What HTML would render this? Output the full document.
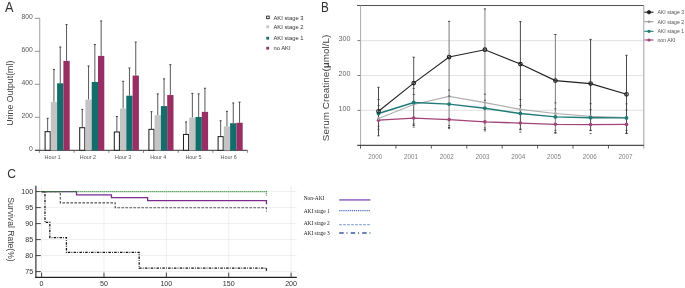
<!DOCTYPE html><html><head><meta charset="utf-8"><style>html,body{margin:0;padding:0;background:#fff;width:685px;height:288px;overflow:hidden}svg{display:block}text{font-family:"Liberation Sans", sans-serif}svg{transform:translateZ(0)}</style></head><body>
<svg width="685" height="288" viewBox="0 0 685 288">
<text transform="translate(4.9,11.7) scale(0.92,1)" font-size="13.9" fill="#333">A</text>
<line x1="39.7" y1="18" x2="39.7" y2="150.3" stroke="#aaa" stroke-width="1.1"/>
<line x1="34.8" y1="150.30" x2="39.7" y2="150.30" stroke="#777" stroke-width="0.8"/>
<text x="32.9" y="150.80" font-size="6.8" fill="#555" text-anchor="end">0</text>
<line x1="34.8" y1="117.30" x2="39.7" y2="117.30" stroke="#777" stroke-width="0.8"/>
<text x="32.9" y="117.80" font-size="6.8" fill="#555" text-anchor="end">200</text>
<line x1="34.8" y1="84.30" x2="39.7" y2="84.30" stroke="#777" stroke-width="0.8"/>
<text x="32.9" y="84.80" font-size="6.8" fill="#555" text-anchor="end">400</text>
<line x1="34.8" y1="51.30" x2="39.7" y2="51.30" stroke="#777" stroke-width="0.8"/>
<text x="32.9" y="51.80" font-size="6.8" fill="#555" text-anchor="end">600</text>
<line x1="34.8" y1="18.30" x2="39.7" y2="18.30" stroke="#777" stroke-width="0.8"/>
<text x="32.9" y="18.80" font-size="6.8" fill="#555" text-anchor="end">800</text>
<line x1="35" y1="150.30" x2="247.5" y2="150.30" stroke="#333" stroke-width="1"/>
<line x1="39.40" y1="150.30" x2="39.40" y2="152.80" stroke="#555" stroke-width="0.7"/>
<line x1="74.10" y1="150.30" x2="74.10" y2="152.80" stroke="#555" stroke-width="0.7"/>
<line x1="108.80" y1="150.30" x2="108.80" y2="152.80" stroke="#555" stroke-width="0.7"/>
<line x1="143.50" y1="150.30" x2="143.50" y2="152.80" stroke="#555" stroke-width="0.7"/>
<line x1="178.20" y1="150.30" x2="178.20" y2="152.80" stroke="#555" stroke-width="0.7"/>
<line x1="212.90" y1="150.30" x2="212.90" y2="152.80" stroke="#555" stroke-width="0.7"/>
<line x1="247.60" y1="150.30" x2="247.60" y2="152.80" stroke="#555" stroke-width="0.7"/>
<line x1="47.65" y1="131.66" x2="47.65" y2="118.29" stroke="#3a3a3a" stroke-width="0.85"/>
<line x1="46.65" y1="118.29" x2="48.65" y2="118.29" stroke="#333" stroke-width="0.9"/>
<rect x="45.10" y="131.66" width="5.10" height="18.65" fill="#fff" stroke="#222" stroke-width="1.05"/>
<line x1="53.95" y1="101.79" x2="53.95" y2="69.45" stroke="#3a3a3a" stroke-width="0.85"/>
<line x1="52.95" y1="69.45" x2="54.95" y2="69.45" stroke="#333" stroke-width="0.9"/>
<rect x="50.80" y="101.79" width="6.30" height="48.51" fill="#c4c4c4"/>
<line x1="60.25" y1="83.31" x2="60.25" y2="47.01" stroke="#3a3a3a" stroke-width="0.85"/>
<line x1="59.25" y1="47.01" x2="61.25" y2="47.01" stroke="#333" stroke-width="0.9"/>
<rect x="57.10" y="83.31" width="6.30" height="66.99" fill="#136d6b"/>
<line x1="66.55" y1="60.87" x2="66.55" y2="24.57" stroke="#3a3a3a" stroke-width="0.85"/>
<line x1="65.55" y1="24.57" x2="67.55" y2="24.57" stroke="#333" stroke-width="0.9"/>
<rect x="63.40" y="60.87" width="6.30" height="89.43" fill="#972f64"/>
<text x="44.60" y="159.2" font-size="5.4" fill="#555">Hour 1</text>
<line x1="82.25" y1="127.70" x2="82.25" y2="109.38" stroke="#3a3a3a" stroke-width="0.85"/>
<line x1="81.25" y1="109.38" x2="83.25" y2="109.38" stroke="#333" stroke-width="0.9"/>
<rect x="79.70" y="127.70" width="5.10" height="22.61" fill="#fff" stroke="#222" stroke-width="1.05"/>
<line x1="88.55" y1="99.65" x2="88.55" y2="65.99" stroke="#3a3a3a" stroke-width="0.85"/>
<line x1="87.55" y1="65.99" x2="89.55" y2="65.99" stroke="#333" stroke-width="0.9"/>
<rect x="85.40" y="99.65" width="6.30" height="50.66" fill="#c4c4c4"/>
<line x1="94.85" y1="81.99" x2="94.85" y2="44.54" stroke="#3a3a3a" stroke-width="0.85"/>
<line x1="93.85" y1="44.54" x2="95.85" y2="44.54" stroke="#333" stroke-width="0.9"/>
<rect x="91.70" y="81.99" width="6.30" height="68.31" fill="#136d6b"/>
<line x1="101.15" y1="55.92" x2="101.15" y2="20.94" stroke="#3a3a3a" stroke-width="0.85"/>
<line x1="100.15" y1="20.94" x2="102.15" y2="20.94" stroke="#333" stroke-width="0.9"/>
<rect x="98.00" y="55.92" width="6.30" height="94.38" fill="#972f64"/>
<text x="79.80" y="159.2" font-size="5.4" fill="#555">Hour 2</text>
<line x1="116.85" y1="131.99" x2="116.85" y2="116.48" stroke="#3a3a3a" stroke-width="0.85"/>
<line x1="115.85" y1="116.48" x2="117.85" y2="116.48" stroke="#333" stroke-width="0.9"/>
<rect x="114.30" y="131.99" width="5.10" height="18.31" fill="#fff" stroke="#222" stroke-width="1.05"/>
<line x1="123.15" y1="108.56" x2="123.15" y2="81.33" stroke="#3a3a3a" stroke-width="0.85"/>
<line x1="122.15" y1="81.33" x2="124.15" y2="81.33" stroke="#333" stroke-width="0.9"/>
<rect x="120.00" y="108.56" width="6.30" height="41.75" fill="#c4c4c4"/>
<line x1="129.45" y1="95.69" x2="129.45" y2="67.97" stroke="#3a3a3a" stroke-width="0.85"/>
<line x1="128.45" y1="67.97" x2="130.45" y2="67.97" stroke="#333" stroke-width="0.9"/>
<rect x="126.30" y="95.69" width="6.30" height="54.62" fill="#136d6b"/>
<line x1="135.75" y1="75.56" x2="135.75" y2="42.06" stroke="#3a3a3a" stroke-width="0.85"/>
<line x1="134.75" y1="42.06" x2="136.75" y2="42.06" stroke="#333" stroke-width="0.9"/>
<rect x="132.60" y="75.56" width="6.30" height="74.75" fill="#972f64"/>
<text x="115.00" y="159.2" font-size="5.4" fill="#555">Hour 3</text>
<line x1="151.45" y1="129.34" x2="151.45" y2="111.69" stroke="#3a3a3a" stroke-width="0.85"/>
<line x1="150.45" y1="111.69" x2="152.45" y2="111.69" stroke="#333" stroke-width="0.9"/>
<rect x="148.90" y="129.34" width="5.10" height="20.96" fill="#fff" stroke="#222" stroke-width="1.05"/>
<line x1="157.75" y1="115.16" x2="157.75" y2="93.87" stroke="#3a3a3a" stroke-width="0.85"/>
<line x1="156.75" y1="93.87" x2="158.75" y2="93.87" stroke="#333" stroke-width="0.9"/>
<rect x="154.60" y="115.16" width="6.30" height="35.15" fill="#c4c4c4"/>
<line x1="164.05" y1="106.08" x2="164.05" y2="78.86" stroke="#3a3a3a" stroke-width="0.85"/>
<line x1="163.05" y1="78.86" x2="165.05" y2="78.86" stroke="#333" stroke-width="0.9"/>
<rect x="160.90" y="106.08" width="6.30" height="44.22" fill="#136d6b"/>
<line x1="170.35" y1="95.03" x2="170.35" y2="64.67" stroke="#3a3a3a" stroke-width="0.85"/>
<line x1="169.35" y1="64.67" x2="171.35" y2="64.67" stroke="#333" stroke-width="0.9"/>
<rect x="167.20" y="95.03" width="6.30" height="55.28" fill="#972f64"/>
<text x="150.20" y="159.2" font-size="5.4" fill="#555">Hour 4</text>
<line x1="186.05" y1="134.46" x2="186.05" y2="121.92" stroke="#3a3a3a" stroke-width="0.85"/>
<line x1="185.05" y1="121.92" x2="187.05" y2="121.92" stroke="#333" stroke-width="0.9"/>
<rect x="183.50" y="134.46" width="5.10" height="15.84" fill="#fff" stroke="#222" stroke-width="1.05"/>
<line x1="192.35" y1="117.63" x2="192.35" y2="93.38" stroke="#3a3a3a" stroke-width="0.85"/>
<line x1="191.35" y1="93.38" x2="193.35" y2="93.38" stroke="#333" stroke-width="0.9"/>
<rect x="189.20" y="117.63" width="6.30" height="32.67" fill="#c4c4c4"/>
<line x1="198.65" y1="116.97" x2="198.65" y2="93.87" stroke="#3a3a3a" stroke-width="0.85"/>
<line x1="197.65" y1="93.87" x2="199.65" y2="93.87" stroke="#333" stroke-width="0.9"/>
<rect x="195.50" y="116.97" width="6.30" height="33.33" fill="#136d6b"/>
<line x1="204.95" y1="111.86" x2="204.95" y2="88.26" stroke="#3a3a3a" stroke-width="0.85"/>
<line x1="203.95" y1="88.26" x2="205.95" y2="88.26" stroke="#333" stroke-width="0.9"/>
<rect x="201.80" y="111.86" width="6.30" height="38.44" fill="#972f64"/>
<text x="185.40" y="159.2" font-size="5.4" fill="#555">Hour 5</text>
<line x1="220.65" y1="136.61" x2="220.65" y2="120.77" stroke="#3a3a3a" stroke-width="0.85"/>
<line x1="219.65" y1="120.77" x2="221.65" y2="120.77" stroke="#333" stroke-width="0.9"/>
<rect x="218.10" y="136.61" width="5.10" height="13.69" fill="#fff" stroke="#222" stroke-width="1.05"/>
<line x1="226.95" y1="126.38" x2="226.95" y2="111.36" stroke="#3a3a3a" stroke-width="0.85"/>
<line x1="225.95" y1="111.36" x2="227.95" y2="111.36" stroke="#333" stroke-width="0.9"/>
<rect x="223.80" y="126.38" width="6.30" height="23.92" fill="#c4c4c4"/>
<line x1="233.25" y1="123.24" x2="233.25" y2="102.95" stroke="#3a3a3a" stroke-width="0.85"/>
<line x1="232.25" y1="102.95" x2="234.25" y2="102.95" stroke="#333" stroke-width="0.9"/>
<rect x="230.10" y="123.24" width="6.30" height="27.06" fill="#136d6b"/>
<line x1="239.55" y1="122.75" x2="239.55" y2="102.12" stroke="#3a3a3a" stroke-width="0.85"/>
<line x1="238.55" y1="102.12" x2="240.55" y2="102.12" stroke="#333" stroke-width="0.9"/>
<rect x="236.40" y="122.75" width="6.30" height="27.56" fill="#972f64"/>
<text x="220.60" y="159.2" font-size="5.4" fill="#555">Hour 6</text>
<text transform="translate(12.7,93.2) rotate(-90)" font-size="8.8" fill="#444" text-anchor="middle">Urine Output(ml)</text>
<rect x="266.6" y="16.10" width="2.6" height="2.6" fill="#fff" stroke="#222" stroke-width="0.9"/>
<text x="273.5" y="19.50" font-size="5.8" fill="#333">AKI stage 3</text>
<rect x="266.3" y="25.40" width="2.8" height="2.8" fill="#c8c8c8"/>
<text x="273.5" y="28.80" font-size="5.8" fill="#333">AKI stage 2</text>
<rect x="266.3" y="36.80" width="2.8" height="2.8" fill="#136d6b"/>
<text x="273.5" y="40.20" font-size="5.8" fill="#333">AKI stage 1</text>
<rect x="266.3" y="46.80" width="2.8" height="2.8" fill="#972f64"/>
<text x="273.5" y="50.20" font-size="5.8" fill="#333">no AKI</text>
<text transform="translate(320.9,11.7) scale(0.84,1)" font-size="13.9" fill="#333">B</text>
<line x1="360.6" y1="110.35" x2="643.8" y2="110.35" stroke="#dcdcdc" stroke-width="0.8"/>
<line x1="357.5" y1="110.35" x2="360.6" y2="110.35" stroke="#555" stroke-width="0.8"/>
<text x="350.6" y="110.95" font-size="7.2" fill="#666" text-anchor="end">100</text>
<line x1="360.6" y1="75.50" x2="643.8" y2="75.50" stroke="#dcdcdc" stroke-width="0.8"/>
<line x1="357.5" y1="75.50" x2="360.6" y2="75.50" stroke="#555" stroke-width="0.8"/>
<text x="350.6" y="76.10" font-size="7.2" fill="#666" text-anchor="end">200</text>
<line x1="360.6" y1="40.65" x2="643.8" y2="40.65" stroke="#dcdcdc" stroke-width="0.8"/>
<line x1="357.5" y1="40.65" x2="360.6" y2="40.65" stroke="#555" stroke-width="0.8"/>
<text x="350.6" y="41.25" font-size="7.2" fill="#666" text-anchor="end">300</text>
<line x1="357" y1="5.5" x2="643.8" y2="5.5" stroke="#505050" stroke-width="1"/>
<line x1="643.8" y1="5.5" x2="643.8" y2="148.6" stroke="#aaa" stroke-width="1.1"/>
<line x1="360.6" y1="5.5" x2="360.6" y2="145.3" stroke="#aaa" stroke-width="1"/>
<line x1="357.2" y1="145.3" x2="643.8" y2="145.3" stroke="#222" stroke-width="1"/>
<line x1="360.50" y1="145.3" x2="360.50" y2="148.6" stroke="#333" stroke-width="0.8"/>
<line x1="395.92" y1="145.3" x2="395.92" y2="148.6" stroke="#333" stroke-width="0.8"/>
<line x1="431.34" y1="145.3" x2="431.34" y2="148.6" stroke="#333" stroke-width="0.8"/>
<line x1="466.76" y1="145.3" x2="466.76" y2="148.6" stroke="#333" stroke-width="0.8"/>
<line x1="502.18" y1="145.3" x2="502.18" y2="148.6" stroke="#333" stroke-width="0.8"/>
<line x1="537.60" y1="145.3" x2="537.60" y2="148.6" stroke="#333" stroke-width="0.8"/>
<line x1="573.02" y1="145.3" x2="573.02" y2="148.6" stroke="#333" stroke-width="0.8"/>
<line x1="608.44" y1="145.3" x2="608.44" y2="148.6" stroke="#333" stroke-width="0.8"/>
<text x="375.30" y="158.9" font-size="6.3" fill="#808080" text-anchor="middle">2000</text>
<text x="411.03" y="158.9" font-size="6.3" fill="#808080" text-anchor="middle">2001</text>
<text x="446.76" y="158.9" font-size="6.3" fill="#808080" text-anchor="middle">2002</text>
<text x="482.49" y="158.9" font-size="6.3" fill="#808080" text-anchor="middle">2003</text>
<text x="518.22" y="158.9" font-size="6.3" fill="#808080" text-anchor="middle">2004</text>
<text x="553.95" y="158.9" font-size="6.3" fill="#808080" text-anchor="middle">2005</text>
<text x="589.68" y="158.9" font-size="6.3" fill="#808080" text-anchor="middle">2006</text>
<text x="625.41" y="158.9" font-size="6.3" fill="#808080" text-anchor="middle">2007</text>
<line x1="378.50" y1="87.3" x2="378.50" y2="135.8" stroke="#333" stroke-width="0.9"/>
<line x1="377.40" y1="87.3" x2="379.60" y2="87.3" stroke="#333" stroke-width="0.9"/>
<line x1="377.40" y1="135.8" x2="379.60" y2="135.8" stroke="#333" stroke-width="0.9"/>
<line x1="413.70" y1="57.2" x2="413.70" y2="125.4" stroke="#555" stroke-width="1.0"/>
<line x1="412.60" y1="57.2" x2="414.80" y2="57.2" stroke="#333" stroke-width="0.9"/>
<line x1="412.60" y1="125.4" x2="414.80" y2="125.4" stroke="#333" stroke-width="0.9"/>
<line x1="449.10" y1="21.4" x2="449.10" y2="127.5" stroke="#777" stroke-width="1.0"/>
<line x1="448.00" y1="21.4" x2="450.20" y2="21.4" stroke="#333" stroke-width="0.9"/>
<line x1="448.00" y1="127.5" x2="450.20" y2="127.5" stroke="#333" stroke-width="0.9"/>
<line x1="484.90" y1="8.9" x2="484.90" y2="129.6" stroke="#999" stroke-width="1.2"/>
<line x1="483.80" y1="8.9" x2="486.00" y2="8.9" stroke="#333" stroke-width="0.9"/>
<line x1="483.80" y1="129.6" x2="486.00" y2="129.6" stroke="#333" stroke-width="0.9"/>
<line x1="520.40" y1="21.6" x2="520.40" y2="129.8" stroke="#333" stroke-width="0.9"/>
<line x1="519.30" y1="21.6" x2="521.50" y2="21.6" stroke="#333" stroke-width="0.9"/>
<line x1="519.30" y1="129.8" x2="521.50" y2="129.8" stroke="#333" stroke-width="0.9"/>
<line x1="555.40" y1="34.5" x2="555.40" y2="132.5" stroke="#888" stroke-width="1.1"/>
<line x1="554.30" y1="34.5" x2="556.50" y2="34.5" stroke="#333" stroke-width="0.9"/>
<line x1="554.30" y1="132.5" x2="556.50" y2="132.5" stroke="#333" stroke-width="0.9"/>
<line x1="590.60" y1="39.4" x2="590.60" y2="130.4" stroke="#333" stroke-width="0.9"/>
<line x1="589.50" y1="39.4" x2="591.70" y2="39.4" stroke="#333" stroke-width="0.9"/>
<line x1="589.50" y1="130.4" x2="591.70" y2="130.4" stroke="#333" stroke-width="0.9"/>
<line x1="626.50" y1="55.3" x2="626.50" y2="133.3" stroke="#333" stroke-width="0.9"/>
<line x1="625.40" y1="55.3" x2="627.60" y2="55.3" stroke="#333" stroke-width="0.9"/>
<line x1="625.40" y1="133.3" x2="627.60" y2="133.3" stroke="#333" stroke-width="0.9"/>
<polyline points="378.50,120.20 413.70,118.10 449.10,119.60 484.90,121.90 520.40,123.10 555.40,124.30 590.60,124.60 626.50,124.40" fill="none" stroke="#a0447a" stroke-width="1.3"/>
<polyline points="378.50,118.50 413.70,104.50 449.10,96.30 484.90,102.60 520.40,109.40 555.40,113.50 590.60,116.30 626.50,117.70" fill="none" stroke="#b0b0b0" stroke-width="1.2"/>
<polyline points="378.50,113.50 413.70,102.50 449.10,104.10 484.90,108.20 520.40,113.50 555.40,116.90 590.60,117.70 626.50,117.90" fill="none" stroke="#1f7a78" stroke-width="1.45"/>
<polyline points="378.50,111.30 413.70,83.10 449.10,57.00 484.90,49.70 520.40,64.10 555.40,80.60 590.60,83.60 626.50,94.30" fill="none" stroke="#222" stroke-width="1.1"/>
<circle cx="378.50" cy="120.2" r="1.8" fill="#a0447a"/>
<circle cx="413.70" cy="118.1" r="1.8" fill="#a0447a"/>
<circle cx="449.10" cy="119.6" r="1.8" fill="#a0447a"/>
<circle cx="484.90" cy="121.9" r="1.8" fill="#a0447a"/>
<circle cx="520.40" cy="123.1" r="1.8" fill="#a0447a"/>
<circle cx="555.40" cy="124.3" r="1.8" fill="#a0447a"/>
<circle cx="590.60" cy="124.6" r="1.8" fill="#a0447a"/>
<circle cx="626.50" cy="124.4" r="1.8" fill="#a0447a"/>
<circle cx="378.50" cy="118.5" r="1.4" fill="#aaa"/>
<circle cx="413.70" cy="104.5" r="1.4" fill="#aaa"/>
<circle cx="449.10" cy="96.3" r="1.4" fill="#aaa"/>
<circle cx="484.90" cy="102.6" r="1.4" fill="#aaa"/>
<circle cx="520.40" cy="109.4" r="1.4" fill="#aaa"/>
<circle cx="555.40" cy="113.5" r="1.4" fill="#aaa"/>
<circle cx="590.60" cy="116.3" r="1.4" fill="#aaa"/>
<circle cx="626.50" cy="117.7" r="1.4" fill="#aaa"/>
<circle cx="378.50" cy="113.5" r="1.9" fill="#1f7a78"/>
<circle cx="413.70" cy="102.5" r="1.9" fill="#1f7a78"/>
<circle cx="449.10" cy="104.1" r="1.9" fill="#1f7a78"/>
<circle cx="484.90" cy="108.2" r="1.9" fill="#1f7a78"/>
<circle cx="520.40" cy="113.5" r="1.9" fill="#1f7a78"/>
<circle cx="555.40" cy="116.9" r="1.9" fill="#1f7a78"/>
<circle cx="590.60" cy="117.7" r="1.9" fill="#1f7a78"/>
<circle cx="626.50" cy="117.9" r="1.9" fill="#1f7a78"/>
<circle cx="378.50" cy="111.3" r="1.8" fill="none" stroke="#222" stroke-width="1.15"/>
<circle cx="413.70" cy="83.1" r="1.8" fill="none" stroke="#222" stroke-width="1.15"/>
<circle cx="449.10" cy="57.0" r="1.8" fill="none" stroke="#222" stroke-width="1.15"/>
<circle cx="484.90" cy="49.7" r="1.8" fill="none" stroke="#222" stroke-width="1.15"/>
<circle cx="520.40" cy="64.1" r="1.8" fill="none" stroke="#222" stroke-width="1.15"/>
<circle cx="555.40" cy="80.6" r="1.8" fill="none" stroke="#222" stroke-width="1.15"/>
<circle cx="590.60" cy="83.6" r="1.8" fill="none" stroke="#222" stroke-width="1.15"/>
<circle cx="626.50" cy="94.3" r="1.8" fill="none" stroke="#222" stroke-width="1.15"/>
<line x1="377.50" y1="99.50" x2="379.50" y2="99.50" stroke="#333" stroke-width="0.8"/>
<line x1="377.50" y1="105.50" x2="379.50" y2="105.50" stroke="#333" stroke-width="0.8"/>
<line x1="377.50" y1="126.20" x2="379.50" y2="126.20" stroke="#333" stroke-width="0.8"/>
<line x1="377.50" y1="129.20" x2="379.50" y2="129.20" stroke="#333" stroke-width="0.8"/>
<line x1="412.70" y1="88.50" x2="414.70" y2="88.50" stroke="#333" stroke-width="0.8"/>
<line x1="412.70" y1="94.50" x2="414.70" y2="94.50" stroke="#333" stroke-width="0.8"/>
<line x1="412.70" y1="124.10" x2="414.70" y2="124.10" stroke="#333" stroke-width="0.8"/>
<line x1="412.70" y1="127.10" x2="414.70" y2="127.10" stroke="#333" stroke-width="0.8"/>
<line x1="448.10" y1="90.10" x2="450.10" y2="90.10" stroke="#333" stroke-width="0.8"/>
<line x1="448.10" y1="96.10" x2="450.10" y2="96.10" stroke="#333" stroke-width="0.8"/>
<line x1="448.10" y1="125.60" x2="450.10" y2="125.60" stroke="#333" stroke-width="0.8"/>
<line x1="448.10" y1="128.60" x2="450.10" y2="128.60" stroke="#333" stroke-width="0.8"/>
<line x1="483.90" y1="94.20" x2="485.90" y2="94.20" stroke="#333" stroke-width="0.8"/>
<line x1="483.90" y1="100.20" x2="485.90" y2="100.20" stroke="#333" stroke-width="0.8"/>
<line x1="483.90" y1="127.90" x2="485.90" y2="127.90" stroke="#333" stroke-width="0.8"/>
<line x1="483.90" y1="130.90" x2="485.90" y2="130.90" stroke="#333" stroke-width="0.8"/>
<line x1="519.40" y1="99.50" x2="521.40" y2="99.50" stroke="#333" stroke-width="0.8"/>
<line x1="519.40" y1="105.50" x2="521.40" y2="105.50" stroke="#333" stroke-width="0.8"/>
<line x1="519.40" y1="129.10" x2="521.40" y2="129.10" stroke="#333" stroke-width="0.8"/>
<line x1="519.40" y1="132.10" x2="521.40" y2="132.10" stroke="#333" stroke-width="0.8"/>
<line x1="554.40" y1="102.90" x2="556.40" y2="102.90" stroke="#333" stroke-width="0.8"/>
<line x1="554.40" y1="108.90" x2="556.40" y2="108.90" stroke="#333" stroke-width="0.8"/>
<line x1="554.40" y1="130.30" x2="556.40" y2="130.30" stroke="#333" stroke-width="0.8"/>
<line x1="554.40" y1="133.30" x2="556.40" y2="133.30" stroke="#333" stroke-width="0.8"/>
<line x1="589.60" y1="103.70" x2="591.60" y2="103.70" stroke="#333" stroke-width="0.8"/>
<line x1="589.60" y1="109.70" x2="591.60" y2="109.70" stroke="#333" stroke-width="0.8"/>
<line x1="589.60" y1="130.60" x2="591.60" y2="130.60" stroke="#333" stroke-width="0.8"/>
<line x1="589.60" y1="133.60" x2="591.60" y2="133.60" stroke="#333" stroke-width="0.8"/>
<line x1="625.50" y1="103.90" x2="627.50" y2="103.90" stroke="#333" stroke-width="0.8"/>
<line x1="625.50" y1="109.90" x2="627.50" y2="109.90" stroke="#333" stroke-width="0.8"/>
<line x1="625.50" y1="130.40" x2="627.50" y2="130.40" stroke="#333" stroke-width="0.8"/>
<line x1="625.50" y1="133.40" x2="627.50" y2="133.40" stroke="#333" stroke-width="0.8"/>
<line x1="644.3" y1="12.2" x2="653.5" y2="12.2" stroke="#222" stroke-width="1.1"/>
<circle cx="649" cy="12.2" r="1.7" fill="#222" stroke="#222" stroke-width="0.8"/>
<text x="657.4" y="14.05" font-size="5.2" fill="#555">AKI stage 3</text>
<line x1="644.3" y1="21.7" x2="653.5" y2="21.7" stroke="#999" stroke-width="1.1"/>
<circle cx="649" cy="21.7" r="1.2" fill="#999"/>
<text x="657.4" y="23.55" font-size="5.2" fill="#555">AKI stage 2</text>
<line x1="644.3" y1="31.3" x2="653.5" y2="31.3" stroke="#1f7a78" stroke-width="1.1"/>
<circle cx="649" cy="31.3" r="1.6" fill="#1f7a78"/>
<text x="657.4" y="33.15" font-size="5.2" fill="#555">AKI stage 1</text>
<line x1="644.3" y1="40.0" x2="653.5" y2="40.0" stroke="#a0447a" stroke-width="1.1"/>
<circle cx="649" cy="40.0" r="1.6" fill="#a0447a"/>
<text x="657.4" y="41.85" font-size="5.2" fill="#555">non AKI</text>
<text transform="translate(329.1,87.9) rotate(-90)" font-size="9.95" fill="#444" text-anchor="middle">Serum Creatine(<tspan font-weight="bold">μ</tspan>mol/L)</text>
<text transform="translate(7.3,178.2) scale(0.94,1)" font-size="12.9" fill="#333">C</text>
<line x1="36.5" y1="271.60" x2="296.8" y2="271.60" stroke="#ebebeb" stroke-width="0.8"/>
<line x1="36.5" y1="255.60" x2="296.8" y2="255.60" stroke="#ebebeb" stroke-width="0.8"/>
<line x1="36.5" y1="239.60" x2="296.8" y2="239.60" stroke="#ebebeb" stroke-width="0.8"/>
<line x1="36.5" y1="223.60" x2="296.8" y2="223.60" stroke="#ebebeb" stroke-width="0.8"/>
<line x1="36.5" y1="207.60" x2="296.8" y2="207.60" stroke="#ebebeb" stroke-width="0.8"/>
<line x1="36.5" y1="191.60" x2="296.8" y2="191.60" stroke="#ebebeb" stroke-width="0.8"/>
<line x1="41.60" y1="185.8" x2="41.60" y2="277.3" stroke="#ebebeb" stroke-width="0.8"/>
<line x1="103.97" y1="185.8" x2="103.97" y2="277.3" stroke="#ebebeb" stroke-width="0.8"/>
<line x1="166.35" y1="185.8" x2="166.35" y2="277.3" stroke="#ebebeb" stroke-width="0.8"/>
<line x1="228.72" y1="185.8" x2="228.72" y2="277.3" stroke="#ebebeb" stroke-width="0.8"/>
<line x1="291.10" y1="185.8" x2="291.10" y2="277.3" stroke="#ebebeb" stroke-width="0.8"/>
<line x1="35.9" y1="185.8" x2="35.9" y2="277.9" stroke="#222" stroke-width="1.1"/>
<line x1="35.3" y1="277.4" x2="296.8" y2="277.4" stroke="#222" stroke-width="1.1"/>
<line x1="35.9" y1="271.60" x2="40.8" y2="271.60" stroke="#333" stroke-width="0.9"/>
<text x="33.2" y="274.10" font-size="7.1" fill="#333" text-anchor="end">75</text>
<line x1="35.9" y1="255.60" x2="40.8" y2="255.60" stroke="#333" stroke-width="0.9"/>
<text x="33.2" y="258.10" font-size="7.1" fill="#333" text-anchor="end">80</text>
<line x1="35.9" y1="239.60" x2="40.8" y2="239.60" stroke="#333" stroke-width="0.9"/>
<text x="33.2" y="242.10" font-size="7.1" fill="#333" text-anchor="end">85</text>
<line x1="35.9" y1="223.60" x2="40.8" y2="223.60" stroke="#333" stroke-width="0.9"/>
<text x="33.2" y="226.10" font-size="7.1" fill="#333" text-anchor="end">90</text>
<line x1="35.9" y1="207.60" x2="40.8" y2="207.60" stroke="#333" stroke-width="0.9"/>
<text x="33.2" y="210.10" font-size="7.1" fill="#333" text-anchor="end">95</text>
<line x1="35.9" y1="191.60" x2="40.8" y2="191.60" stroke="#333" stroke-width="0.9"/>
<text x="33.2" y="194.10" font-size="7.1" fill="#333" text-anchor="end">100</text>
<line x1="41.60" y1="272.6" x2="41.60" y2="277.3" stroke="#333" stroke-width="0.9"/>
<text x="41.60" y="285.8" font-size="7.1" fill="#333" text-anchor="middle">0</text>
<line x1="103.97" y1="272.6" x2="103.97" y2="277.3" stroke="#333" stroke-width="0.9"/>
<text x="103.97" y="285.8" font-size="7.1" fill="#333" text-anchor="middle">50</text>
<line x1="166.35" y1="272.6" x2="166.35" y2="277.3" stroke="#333" stroke-width="0.9"/>
<text x="166.35" y="285.8" font-size="7.1" fill="#333" text-anchor="middle">100</text>
<line x1="228.72" y1="272.6" x2="228.72" y2="277.3" stroke="#333" stroke-width="0.9"/>
<text x="228.72" y="285.8" font-size="7.1" fill="#333" text-anchor="middle">150</text>
<line x1="291.10" y1="272.6" x2="291.10" y2="277.3" stroke="#333" stroke-width="0.9"/>
<text x="291.10" y="285.8" font-size="7.1" fill="#333" text-anchor="middle">200</text>
<text transform="translate(8.2,229.5) rotate(90)" font-size="8.6" fill="#444" text-anchor="middle">Survival Rate(%)</text>
<path d="M41.60,191.60 H76.53 V194.80 H111.46 V197.68 H147.64 V200.56 H266.45 v3.8" fill="none" stroke="#7b2d8e" stroke-width="1.3" stroke-dasharray="none"/>
<path d="M41.60,191.60 H60.31 V202.80 H115.20 V207.79 H266.45 v3.8" fill="none" stroke="#555" stroke-width="1.15" stroke-dasharray="2.6,1.4"/>
<path d="M41.60,191.60 H44.97 V222.32 H49.83 V237.52 H66.43 V252.40 H139.15 V268.08 H266.45 v3.8" fill="none" stroke="#111" stroke-width="1.25" stroke-dasharray="2.5,1.2,0.8,1.3"/>
<path d="M41.60,191.60 H266.45 v3.8" fill="none" stroke="#2a8a2a" stroke-width="1.3" stroke-dasharray="1.1,0.9"/>
<text x="303.7" y="199.60" style='font-family:"Liberation Serif", serif' font-size="5.4" fill="#222">Non-AKI</text>
<line x1="339.2" y1="199.90" x2="370.4" y2="199.90" stroke="#a27bc9" stroke-width="1.8" stroke-dasharray="none"/>
<text x="303.7" y="213.10" style='font-family:"Liberation Serif", serif' font-size="5.4" fill="#222">AKI stage 1</text>
<line x1="339.2" y1="210.70" x2="370.4" y2="210.70" stroke="#4a6cc0" stroke-width="1.3" stroke-dasharray="1.2,0.9"/>
<text x="303.7" y="225.40" style='font-family:"Liberation Serif", serif' font-size="5.4" fill="#222">AKI stage 2</text>
<line x1="339.2" y1="224.60" x2="370.4" y2="224.60" stroke="#8eaadc" stroke-width="1.2" stroke-dasharray="2.6,1.4"/>
<text x="303.7" y="235.30" style='font-family:"Liberation Serif", serif' font-size="5.4" fill="#222">AKI stage 3</text>
<line x1="339.2" y1="233.10" x2="370.4" y2="233.10" stroke="#3c5aa0" stroke-width="1.5" stroke-dasharray="4.5,2.8,1,3.2"/>
</svg></body></html>
